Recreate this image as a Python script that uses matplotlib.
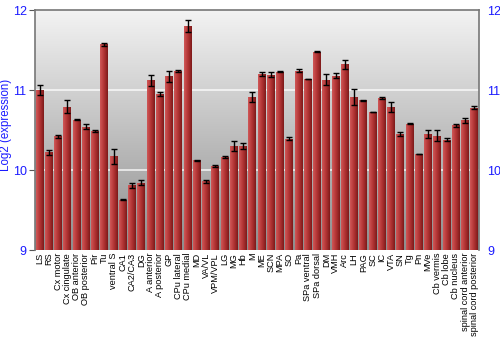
import numpy as np
import matplotlib
matplotlib.use("Agg")
import matplotlib.pyplot as plt
from matplotlib.colors import LinearSegmentedColormap

plt.rcParams["font.family"] = ["Liberation Sans", "DejaVu Sans"]

regions = ["LS", "RS", "Cx motor", "Cx cingulate", "OB anterior", "OB posterior",
           "Pir", "Tu", "ventral S", "CA1", "CA2/CA3", "DG", "A anterior",
           "A posterior", "GP", "CPu lateral", "CPu medial", "MD", "VA/VL",
           "VPM/VPL", "LG", "MG", "Hb", "M", "ME", "SCN", "MPA", "SO", "Pa",
           "SPa ventral", "SPa dorsal", "DM", "VMH", "Arc", "LH", "PAG", "SC",
           "IC", "VTA", "SN", "Tg", "Pn", "MVe", "Cb vermis", "Cb lobe",
           "Cb nucleus", "spinal cord anterior", "spinal cord posterior"]
expr = [11.00, 10.22, 10.42, 10.79, 10.63, 10.54, 10.49, 11.57, 10.17, 9.63,
        9.81, 9.84, 11.12, 10.95, 11.17, 11.24, 11.80, 10.12, 9.86, 10.05,
        10.16, 10.30, 10.30, 10.91, 11.20, 11.19, 11.23, 10.39, 11.24, 11.14,
        11.48, 11.13, 11.18, 11.32, 10.91, 10.87, 10.73, 10.90, 10.79, 10.45,
        10.58, 10.20, 10.45, 10.43, 10.38, 10.56, 10.62, 10.78]
err = [0.06, 0.03, 0.02, 0.08, 0.01, 0.03, 0.01, 0.02, 0.09, 0.01,
       0.03, 0.03, 0.07, 0.03, 0.07, 0.01, 0.07, 0.01, 0.02, 0.01,
       0.01, 0.06, 0.04, 0.06, 0.02, 0.03, 0.01, 0.02, 0.02, 0.00,
       0.01, 0.07, 0.03, 0.06, 0.10, 0.01, 0.00, 0.01, 0.06, 0.03,
       0.01, 0.00, 0.05, 0.07, 0.02, 0.02, 0.03, 0.02]

blue = "#1a1aff"
fig = plt.figure(figsize=(5, 3.5), dpi=100)
ax = fig.add_axes([0.07, 0.2857, 0.888, 0.6857])
x = np.arange(len(regions))
ax.set_xlim(-0.5, len(regions) - 0.5)
ax.set_ylim(9, 12)

# gray gradient background
bg = LinearSegmentedColormap.from_list("bg", ["#8e8e8e", "#f3f3f3"])
ax.imshow(np.linspace(0, 1, 256).reshape(-1, 1), cmap=bg, aspect="auto",
          extent=[-0.5, len(regions) - 0.5, 9, 12], origin="lower", zorder=0)
for g in [10, 11]:
    ax.axhline(g, color="white", lw=1.2, alpha=0.8, zorder=1)

# bars with horizontal red gradient
redmap = LinearSegmentedColormap.from_list("red", ["#d05858", "#b23434", "#7e1a1a"])
grad = np.linspace(0, 1, 64).reshape(1, -1)
w = 0.86
bars = ax.bar(x, [v - 9 for v in expr], bottom=9, width=w, color="none",
              edgecolor="none", zorder=2)
for b in bars:
    x0, y0 = b.get_x(), b.get_y()
    im = ax.imshow(grad, cmap=redmap, aspect="auto", zorder=2,
                   extent=[x0, x0 + b.get_width(), y0, y0 + b.get_height()])
    im.set_clip_path(b)
ax.set_xlim(-0.5, len(regions) - 0.5)
ax.set_ylim(9, 12)
ax.errorbar(x, expr, yerr=err, fmt="none", ecolor="black", elinewidth=1,
            capsize=2.5, capthick=1, zorder=3)

ax.set_xticks(x)
ax.set_xticklabels(regions, rotation=90, fontsize=6.6)
ax.tick_params(axis="x", length=0, pad=2)
ax.set_yticks([9, 10, 11, 12])
ax.tick_params(axis="y", colors="#555555", labelcolor=blue, labelsize=9,
               length=4, pad=2, labelright=True)
ax.tick_params(axis="y", which="major", right=False)
ax.set_ylabel("Log2 (expression)", color=blue, fontsize=8.3)
ax.yaxis.set_label_coords(-0.052, 0.52)
for s in ["left", "top", "right"]:
    ax.spines[s].set_color("#777777")
    ax.spines[s].set_linewidth(1.2)
ax.spines["bottom"].set_visible(False)

fig.savefig("out.png", dpi=100)
